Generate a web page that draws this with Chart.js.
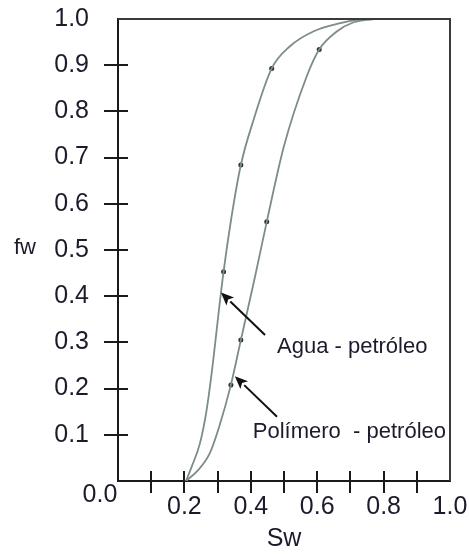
<!DOCTYPE html>
<html>
<head>
<meta charset="utf-8">
<script src="https://cdn.jsdelivr.net/npm/chart.js@4.4.1/dist/chart.umd.min.js"></script>
<style>
  html, body { margin: 0; padding: 0; background: #ffffff; }
  #wrap { width: 469px; height: 554px; }
</style>
</head>
<body>
<div id="wrap"><canvas id="c" width="469" height="554"></canvas></div>
<script>
// ---- data ----
const tickValues = [0, 0.1, 0.2, 0.3, 0.4, 0.5, 0.6, 0.7, 0.8, 0.9, 1.0];
const xTickLabels = ['', '', '0.2', '', '0.4', '', '0.6', '', '0.8', '', '1.0'];
const yTickLabels = ['', '0.1', '0.2', '0.3', '0.4', '0.5', '0.6', '0.7', '0.8', '0.9', '1.0'];
const originLabel = '0.0';
const xTitle = 'Sw';
const yTitle = 'fw';

const aguaSw = [0.205, 0.222, 0.247, 0.267, 0.287, 0.300, 0.318, 0.342, 0.370, 0.408, 0.463, 0.518, 0.588, 0.669, 0.730];
const aguaFw = [0.000, 0.031, 0.082, 0.154, 0.262, 0.345, 0.453, 0.572, 0.684, 0.781, 0.893, 0.941, 0.973, 0.991, 1.000];
const aguaDotSw = [0.318, 0.370, 0.463];
const aguaDotFw = [0.453, 0.684, 0.893];

const polSw = [0.205, 0.242, 0.277, 0.305, 0.340, 0.370, 0.412, 0.448, 0.500, 0.568, 0.606, 0.659, 0.710, 0.770];
const polFw = [0.000, 0.024, 0.061, 0.118, 0.208, 0.305, 0.440, 0.561, 0.725, 0.875, 0.934, 0.973, 0.993, 1.000];
const polDotSw = [0.340, 0.370, 0.448, 0.606];
const polDotFw = [0.208, 0.305, 0.561, 0.934];

const annLabels = ['Agua - petróleo', 'Polímero  - petróleo'];
const annTextSw = [0.479, 0.406];
const annTextFw = [0.290, 0.107];
const arrowTailSw = [0.443, 0.479];
const arrowTailFw = [0.316, 0.139];
const arrowHeadSw = [0.310, 0.352];
const arrowHeadFw = [0.408, 0.227];

// ---- helpers ----
const zip = (xs, ys) => xs.map((x, i) => ({ x: x, y: ys[i] }));
const FONT = "'Liberation Sans', Arial, sans-serif";
const TEXT = '#1b1b2c';
const CURVE = '#7d8c89';

const tickPlugin = {
  id: 'crossTicks',
  afterDraw(chart) {
    const ctx = chart.ctx;
    const xs = chart.scales.x, ys = chart.scales.y;
    const area = chart.chartArea;
    ctx.save();
    ctx.strokeStyle = '#1a1a1a';
    ctx.lineWidth = 2;
    for (let i = 1; i < tickValues.length - 1; i++) {
      const px = Math.round(xs.getPixelForValue(tickValues[i]));
      ctx.beginPath();
      ctx.moveTo(px, area.bottom - 10);
      ctx.lineTo(px, area.bottom + 12);
      ctx.stroke();
      const py = Math.round(ys.getPixelForValue(tickValues[i]));
      ctx.beginPath();
      ctx.moveTo(area.left - 14, py);
      ctx.lineTo(area.left + 10, py);
      ctx.stroke();
    }
    // frame top & right
    ctx.strokeStyle = '#3a3a3a';
    ctx.lineWidth = 2;
    ctx.beginPath();
    ctx.moveTo(area.left, area.top);
    ctx.lineTo(area.right, area.top);
    ctx.lineTo(area.right, area.bottom);
    ctx.stroke();

    // origin label
    ctx.fillStyle = TEXT;
    ctx.font = '25px ' + FONT;
    ctx.textAlign = 'center';
    ctx.textBaseline = 'middle';
    ctx.fillText(originLabel, xs.getPixelForValue(0) - 18, ys.getPixelForValue(0) + 14);

    // y title (horizontal)
    ctx.font = '22px ' + FONT;
    ctx.fillText(yTitle, 25, ys.getPixelForValue(0.5) - 2);

    // arrows
    ctx.strokeStyle = '#111111';
    ctx.fillStyle = '#111111';
    ctx.lineWidth = 2;
    for (let i = 0; i < arrowTailSw.length; i++) {
      const tx = xs.getPixelForValue(arrowTailSw[i]), ty = ys.getPixelForValue(arrowTailFw[i]);
      const hx = xs.getPixelForValue(arrowHeadSw[i]), hy = ys.getPixelForValue(arrowHeadFw[i]);
      const ang = Math.atan2(hy - ty, hx - tx);
      const L = 13, W = 5.5;
      const bx = hx - L * Math.cos(ang), by = hy - L * Math.sin(ang);
      ctx.beginPath();
      ctx.moveTo(tx, ty);
      ctx.lineTo(bx, by);
      ctx.stroke();
      ctx.beginPath();
      ctx.moveTo(hx, hy);
      ctx.lineTo(bx + W * Math.sin(ang), by - W * Math.cos(ang));
      ctx.lineTo(bx + 3 * Math.cos(ang), by + 3 * Math.sin(ang));
      ctx.lineTo(bx - W * Math.sin(ang), by + W * Math.cos(ang));
      ctx.closePath();
      ctx.fill();
    }
    // annotation labels
    ctx.fillStyle = TEXT;
    ctx.font = '22px ' + FONT;
    ctx.textAlign = 'left';
    ctx.textBaseline = 'middle';
    for (let i = 0; i < annLabels.length; i++) {
      ctx.fillText(annLabels[i], xs.getPixelForValue(annTextSw[i]), ys.getPixelForValue(annTextFw[i]));
    }
    ctx.restore();
  }
};

new Chart(document.getElementById('c'), {
  type: 'scatter',
  data: {
    datasets: [
      { label: 'Agua - petróleo', data: zip(aguaSw, aguaFw), showLine: true, borderColor: CURVE, borderWidth: 1.8,
        pointRadius: 0, cubicInterpolationMode: 'monotone', fill: false },
      { label: 'Polímero - petróleo', data: zip(polSw, polFw), showLine: true, borderColor: CURVE, borderWidth: 1.8,
        pointRadius: 0, cubicInterpolationMode: 'monotone', fill: false },
      { label: 'Agua pts', data: zip(aguaDotSw, aguaDotFw), showLine: false, pointRadius: 2.5,
        pointBackgroundColor: '#2a332f', pointBorderWidth: 0 },
      { label: 'Polímero pts', data: zip(polDotSw, polDotFw), showLine: false, pointRadius: 2.5,
        pointBackgroundColor: '#2a332f', pointBorderWidth: 0 }
    ]
  },
  options: {
    responsive: false,
    animation: false,
    events: [],
    layout: { padding: { top: 19, right: 19, left: 0, bottom: 0 } },
    plugins: { legend: { display: false }, tooltip: { enabled: false } },
    scales: {
      x: {
        type: 'linear', min: 0, max: 1,
        afterBuildTicks: (s) => { s.ticks = tickValues.map(v => ({ value: v })); },
        afterFit: (s) => { s.height = 73; s.paddingLeft = 0; s.paddingRight = 0; },
        grid: { display: false, drawTicks: false },
        border: { display: true, color: '#1a1a1a', width: 2 },
        ticks: { autoSkip: false, maxRotation: 0, padding: 11, color: TEXT,
          font: { family: FONT, size: 25 },
          callback: (v, i) => xTickLabels[i] },
        title: { display: true, text: xTitle, color: TEXT, font: { family: FONT, size: 25 },
          padding: { top: 0, bottom: 0 } }
      },
      y: {
        type: 'linear', min: 0, max: 1,
        afterBuildTicks: (s) => { s.ticks = tickValues.map(v => ({ value: v })); },
        afterFit: (s) => { s.width = 118; s.paddingTop = 0; s.paddingBottom = 0; },
        grid: { display: false, drawTicks: false },
        border: { display: true, color: '#1a1a1a', width: 2 },
        ticks: { autoSkip: false, padding: 29, color: TEXT,
          font: { family: FONT, size: 25 },
          callback: (v, i) => yTickLabels[i] }
      }
    }
  },
  plugins: [tickPlugin]
});
</script>
</body>
</html>
